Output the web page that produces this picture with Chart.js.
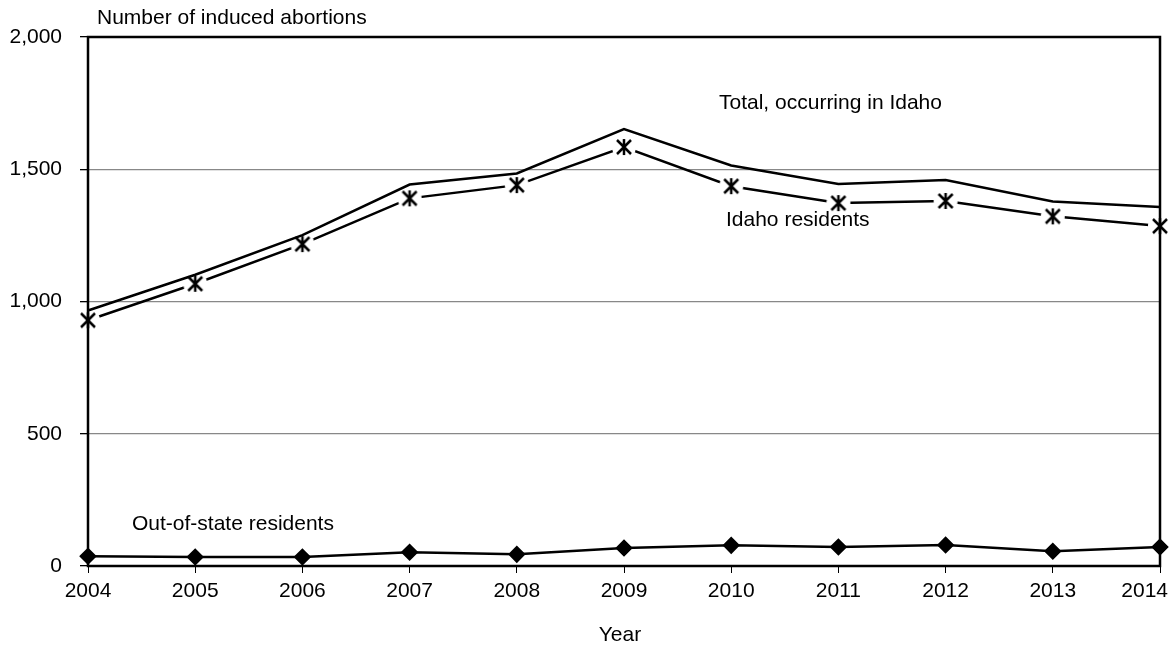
<!DOCTYPE html>
<html>
<head>
<meta charset="utf-8">
<script src="https://cdn.jsdelivr.net/npm/chart.js@4.4.1/dist/chart.umd.min.js"></script>
<style>
  html, body { margin: 0; padding: 0; background: #fff; }
  #wrap { width: 1175px; height: 648px; }
</style>
</head>
<body>
<div id="wrap"><canvas id="abortionChart" width="1175" height="648"></canvas></div>
<script>
const years = ['2004', '2005', '2006', '2007', '2008', '2009', '2010', '2011', '2012', '2013', '2014'];
const totalInIdaho = [966, 1101, 1251, 1442, 1484, 1652, 1514, 1444, 1459, 1378, 1357];
const idahoResidents = [929, 1067, 1217, 1390, 1440, 1584, 1436, 1372, 1380, 1322, 1285];
const outOfState = [37, 34, 34, 52, 44, 68, 78, 72, 79, 56, 72];
const yTicks = [0, 500, 1000, 1500, 2000];

const FONT = '"Liberation Sans", Arial, sans-serif';
const FSIZE = 21;

// asterisk marker with a white halo so the line breaks around it
function starMarker() {
  const c = document.createElement('canvas');
  c.width = 26; c.height = 26;
  const g = c.getContext('2d');
  g.fillStyle = '#fff';
  g.beginPath(); g.arc(13, 13, 12, 0, Math.PI * 2); g.fill();
  g.strokeStyle = '#000';
  g.lineWidth = 2.5;
  g.beginPath();
  g.moveTo(6, 6); g.lineTo(20, 20);
  g.moveTo(20, 6); g.lineTo(6, 20);
  g.moveTo(13, 5); g.lineTo(13, 21);
  g.stroke();
  return c;
}

const labelsPlugin = {
  id: 'extras',
  afterDraw(chart) {
    const { ctx, chartArea: a } = chart;
    const last = years.length - 1;
    ctx.save();
    ctx.strokeStyle = '#000';
    ctx.lineWidth = 2.5;
    ctx.strokeRect(a.left, a.top, a.right - a.left, a.bottom - a.top);
    ctx.fillStyle = '#000';
    ctx.font = FSIZE + 'px ' + FONT;
    ctx.textBaseline = 'middle';
    ctx.textAlign = 'left';
    ctx.fillText('Number of induced abortions', 97, 18);
    ctx.fillText('Total, occurring in Idaho', 719, 103);
    ctx.fillText('Idaho residents', 726, 220);
    ctx.fillText('Out-of-state residents', 132, 524);
    ctx.textAlign = 'center';
    ctx.fillText('Year', 620, 635);
    // last year label is pulled inside the page, like the original
    ctx.textAlign = 'right';
    ctx.fillText(years[last], chart.width - 7, 591);
    ctx.restore();
  }
};

const ctx = document.getElementById('abortionChart').getContext('2d');
const abortionChart = new Chart(ctx, {
  type: 'line',
  data: {
    labels: years,
    datasets: [
      {
        label: 'Total, occurring in Idaho',
        data: totalInIdaho,
        borderColor: '#000',
        borderWidth: 2.5,
        pointRadius: 0,
        tension: 0
      },
      {
        label: 'Idaho residents',
        data: idahoResidents,
        borderColor: '#000',
        borderWidth: 2.5,
        pointStyle: starMarker(),
        pointRadius: 12,
        tension: 0
      },
      {
        label: 'Out-of-state residents',
        data: outOfState,
        borderColor: '#000',
        borderWidth: 2.5,
        backgroundColor: '#000',
        pointStyle: 'rectRot',
        pointRadius: 7,
        tension: 0
      }
    ]
  },
  options: {
    responsive: false,
    animation: false,
    layout: { padding: { top: 37, right: 15, bottom: 46, left: 0 } },
    plugins: {
      legend: { display: false },
      tooltip: { enabled: false }
    },
    scales: {
      x: {
        offset: false,
        grid: { drawOnChartArea: false, color: '#000', tickLength: 7, lineWidth: 1 },
        border: { display: false },
        ticks: {
          color: c => (c.index === years.length - 1 ? 'rgba(0,0,0,0)' : '#000'),
          font: { size: FSIZE, family: FONT },
          padding: 6,
          maxRotation: 0
        },
        afterFit(scale) {
          scale.height = 36;
          scale.paddingLeft = 0;
          scale.paddingRight = 0;
        }
      },
      y: {
        min: 0,
        max: 2000,
        afterBuildTicks(scale) { scale.ticks = yTicks.map(v => ({ value: v })); },
        grid: { color: '#888', tickColor: '#000', tickLength: 8, lineWidth: 1.3 },
        border: { display: false },
        ticks: {
          color: '#000',
          font: { size: FSIZE, family: FONT },
          padding: 18,
          callback: v => v.toLocaleString('en-US')
        },
        afterFit(scale) {
          scale.width = 88;
          scale.paddingTop = 0;
          scale.paddingBottom = 0;
        }
      }
    }
  },
  plugins: [labelsPlugin]
});
</script>
</body>
</html>
